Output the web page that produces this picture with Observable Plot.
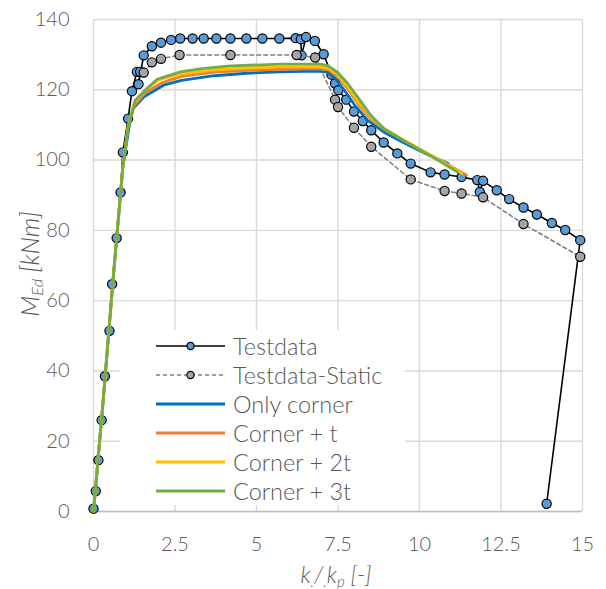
<!DOCTYPE html>
<html>
<head>
<meta charset="utf-8">
<script src="https://cdn.jsdelivr.net/npm/d3@7"></script>
<script src="https://cdn.jsdelivr.net/npm/@observablehq/plot@0.6"></script>
<style>
  body { margin: 0; background: #fff; }
  #wrap { position: relative; width: 606px; height: 589px; font-family: "Lato", sans-serif; font-weight: 300; color: #595959; }
  #legend { position: absolute; left: 120px; top: 330px; width: 285px; height: 175px; background: #fff; }
  .row { position: absolute; left: 0; height: 29px; display: flex; align-items: center; font-size: 23.5px; }
  .row svg { margin-left: 36px; margin-right: 8px; }
  #ylab { position: absolute; left: 30px; top: 264px; transform: translate(-50%, -50%) rotate(-90deg); font-size: 25px; font-style: italic; white-space: nowrap; }
  #xlab { position: absolute; left: 336px; top: 575px; transform: translate(-50%, -50%); font-size: 23px; font-style: italic; white-space: nowrap; }
  sub { font-size: 0.65em; vertical-align: -0.3em; }
</style>
</head>
<body>
<div id="wrap"></div>
<script>
// ---- data ----
const xTicks = [0, 2.5, 5, 7.5, 10, 12.5, 15];
const xTickLabels = ["0", "2.5", "5", "7.5", "10", "12.5", "15"];
const yTicks = [0, 20, 40, 60, 80, 100, 120, 140];

const testX = [0, 0.07, 0.15, 0.25, 0.35, 0.49, 0.57, 0.71, 0.83, 0.9, 1.06, 1.18, 1.33, 1.43, 1.38, 1.54, 1.79, 2.07, 2.38, 2.66, 3.04, 3.38, 3.77, 4.2, 4.69, 5.18, 5.7, 6.2, 6.36, 6.38, 6.52, 6.79, 7.06, 7.3, 7.41, 7.51, 7.75, 7.99, 8.26, 8.52, 8.9, 9.32, 9.73, 10.34, 10.77, 11.29, 11.77, 11.85, 11.95, 12.37, 12.75, 13.19, 13.6, 14.06, 14.47, 14.93, 13.9];
const testY = [0.8, 5.8, 14.6, 26, 38.5, 51.4, 64.7, 77.8, 90.8, 102.2, 111.8, 119.6, 125.1, 125.1, 121.6, 129.8, 132.4, 133.4, 134.2, 134.6, 134.6, 134.6, 134.6, 134.6, 134.6, 134.6, 134.6, 134.7, 134.4, 129.8, 135, 133.9, 130.1, 124.3, 121.8, 119.9, 117.2, 113.8, 111.1, 108.5, 105, 101.9, 99, 96.5, 95.9, 95.2, 94.3, 90.9, 94.1, 91.4, 88.9, 86.5, 84.5, 82.1, 80.1, 77.2, 2.2];

const staticX = [1.54, 1.79, 2.07, 2.64, 4.2, 6.23, 6.8, 7.41, 7.5, 7.99, 8.52, 9.73, 10.77, 11.29, 11.95, 13.19, 14.93];
const staticY = [124.9, 127.8, 128.8, 129.9, 129.9, 129.9, 129.2, 117.2, 115.1, 109.2, 103.8, 94.5, 91.2, 90.5, 89.4, 81.8, 72.5];

const cornerX = [0, 0.3, 0.6, 0.9, 1.1, 1.2, 1.55, 2.15, 2.7, 3.7, 4.7, 5.7, 6.8, 7.15, 7.4, 7.7, 8.0, 8.4, 8.9, 9.5, 10.2, 10.88];
const cornerY = [0, 32, 66, 98, 110, 114.5, 118, 121.3, 122.7, 124, 124.7, 125.1, 125.3, 125.1, 123.4, 119.8, 115.8, 111.4, 108, 105, 101.8, 99];

const cornerTX = [0, 0.3, 0.6, 0.9, 1.05, 1.25, 1.6, 2.1, 2.7, 3.7, 4.7, 5.7, 6.9, 7.2, 7.5, 7.8, 8.15, 8.5, 8.9, 9.5, 10.2, 10.9, 11.44];
const cornerTY = [0, 32, 66, 98, 109, 115.5, 119.2, 122, 123.8, 125, 125.5, 125.8, 126, 125.7, 123.6, 120.2, 115.6, 111.8, 108.8, 105.6, 102, 98.6, 95.7];

const corner2tX = [0, 0.3, 0.6, 0.9, 1.05, 1.25, 1.6, 2.0, 2.7, 3.7, 4.7, 5.7, 6.9, 7.2, 7.5, 7.8, 8.15, 8.5, 8.9, 9.5, 10.2, 10.9, 11.3];
const corner2tY = [0, 32, 66, 98, 109, 116.3, 120, 122.8, 124.5, 125.7, 126.2, 126.5, 126.6, 126.2, 124.2, 120.8, 116.2, 112.3, 109.1, 105.8, 102.2, 98.5, 96.2];

const corner3tX = [0, 0.3, 0.6, 0.9, 1.05, 1.28, 1.6, 1.95, 2.66, 3.38, 4.2, 5.73, 6.96, 7.2, 7.48, 7.78, 8.14, 8.5, 8.9, 9.42, 10.03, 10.65, 11.16];
const corner3tY = [0, 32, 66, 98, 108.5, 117, 120, 123, 125.1, 126.1, 126.8, 127.3, 127.3, 126.8, 125, 122, 117.5, 112.8, 109, 106.1, 102.8, 99.5, 96.6];

const seriesNames = ["Testdata", "Testdata-Static", "Only corner", "Corner + t", "Corner + 2t", "Corner + 3t"];
const seriesColors = ["#000000", "#7f7f7f", "#0070c0", "#ed7d31", "#ffc000", "#70ad47"];

// ---- build ----
const pts = (xs, ys) => xs.map((x, i) => ({x, y: ys[i]}));
const test = pts(testX, testY);
const stat = pts(staticX, staticY);
const models = [pts(cornerX, cornerY), pts(cornerTX, cornerTY), pts(corner2tX, corner2tY), pts(corner3tX, corner3tY)];

const grid = "#d9d9d9";
const chart = Plot.plot({
  width: 606,
  height: 589,
  marginLeft: 93,
  marginRight: 24,
  marginTop: 19,
  marginBottom: 78,
  style: {fontFamily: "Lato, sans-serif", fontSize: "20px", color: "#595959", fontWeight: 300, background: "#fff"},
  x: {domain: [0, 15]},
  y: {domain: [0, 140]},
  marks: [
    Plot.gridX(xTicks, {stroke: grid, strokeOpacity: 1, strokeWidth: 1.4}),
    Plot.gridY(yTicks, {stroke: grid, strokeOpacity: 1, strokeWidth: 1.4}),
    Plot.ruleY([0], {stroke: "#bfbfbf", strokeWidth: 1.4}),
    Plot.axisX(xTicks, {tickSize: 0, tickPadding: 25, tickFormat: (d) => xTickLabels[xTicks.indexOf(d)], label: null}),
    Plot.axisY(yTicks, {tickSize: 0, tickPadding: 24, label: null}),
    Plot.line(test, {x: "x", y: "y", stroke: "#000", strokeWidth: 1.6}),
    Plot.dot(test, {x: "x", y: "y", r: 4.6, fill: "#5b9bd5", stroke: "#000", strokeWidth: 1.2}),
    Plot.line(stat, {x: "x", y: "y", stroke: "#7f7f7f", strokeWidth: 1.5, strokeDasharray: "4,3"}),
    Plot.dot(stat, {x: "x", y: "y", r: 4.6, fill: "#a5a5a5", stroke: "#000", strokeWidth: 1.2}),
    ...models.map((m, i) => Plot.line(m, {x: "x", y: "y", stroke: seriesColors[i + 2], strokeWidth: 2.8}))
  ]
});

const wrap = document.getElementById("wrap");
wrap.appendChild(chart);

// legend (inside plot area, white box)
const legend = document.createElement("div");
legend.id = "legend";
seriesNames.forEach((name, i) => {
  const row = document.createElement("div");
  row.className = "row";
  row.style.top = (1 + i * 29) + "px";
  let sw;
  if (i === 0) {
    sw = `<svg width="69" height="12"><line x1="0" y1="6" x2="69" y2="6" stroke="#000" stroke-width="1.6"/><circle cx="34.5" cy="6" r="3.6" fill="#5b9bd5" stroke="#000" stroke-width="1.2"/></svg>`;
  } else if (i === 1) {
    sw = `<svg width="69" height="12"><line x1="0" y1="6" x2="69" y2="6" stroke="#7f7f7f" stroke-width="1.5" stroke-dasharray="4,3"/><circle cx="34.5" cy="6" r="3.6" fill="#a5a5a5" stroke="#000" stroke-width="1.2"/></svg>`;
  } else {
    sw = `<svg width="69" height="12"><line x1="0" y1="6" x2="69" y2="6" stroke="${seriesColors[i]}" stroke-width="2.8"/></svg>`;
  }
  row.innerHTML = sw + `<span>${name}</span>`;
  legend.appendChild(row);
});
wrap.appendChild(legend);

const ylab = document.createElement("div");
ylab.id = "ylab";
ylab.innerHTML = "M<sub>Ed</sub> [kNm]";
wrap.appendChild(ylab);

const xlab = document.createElement("div");
xlab.id = "xlab";
xlab.innerHTML = "k<sub>.</sub>/<sub>.</sub>k<sub>p</sub> [-]";
wrap.appendChild(xlab);
</script>
</body>
</html>
